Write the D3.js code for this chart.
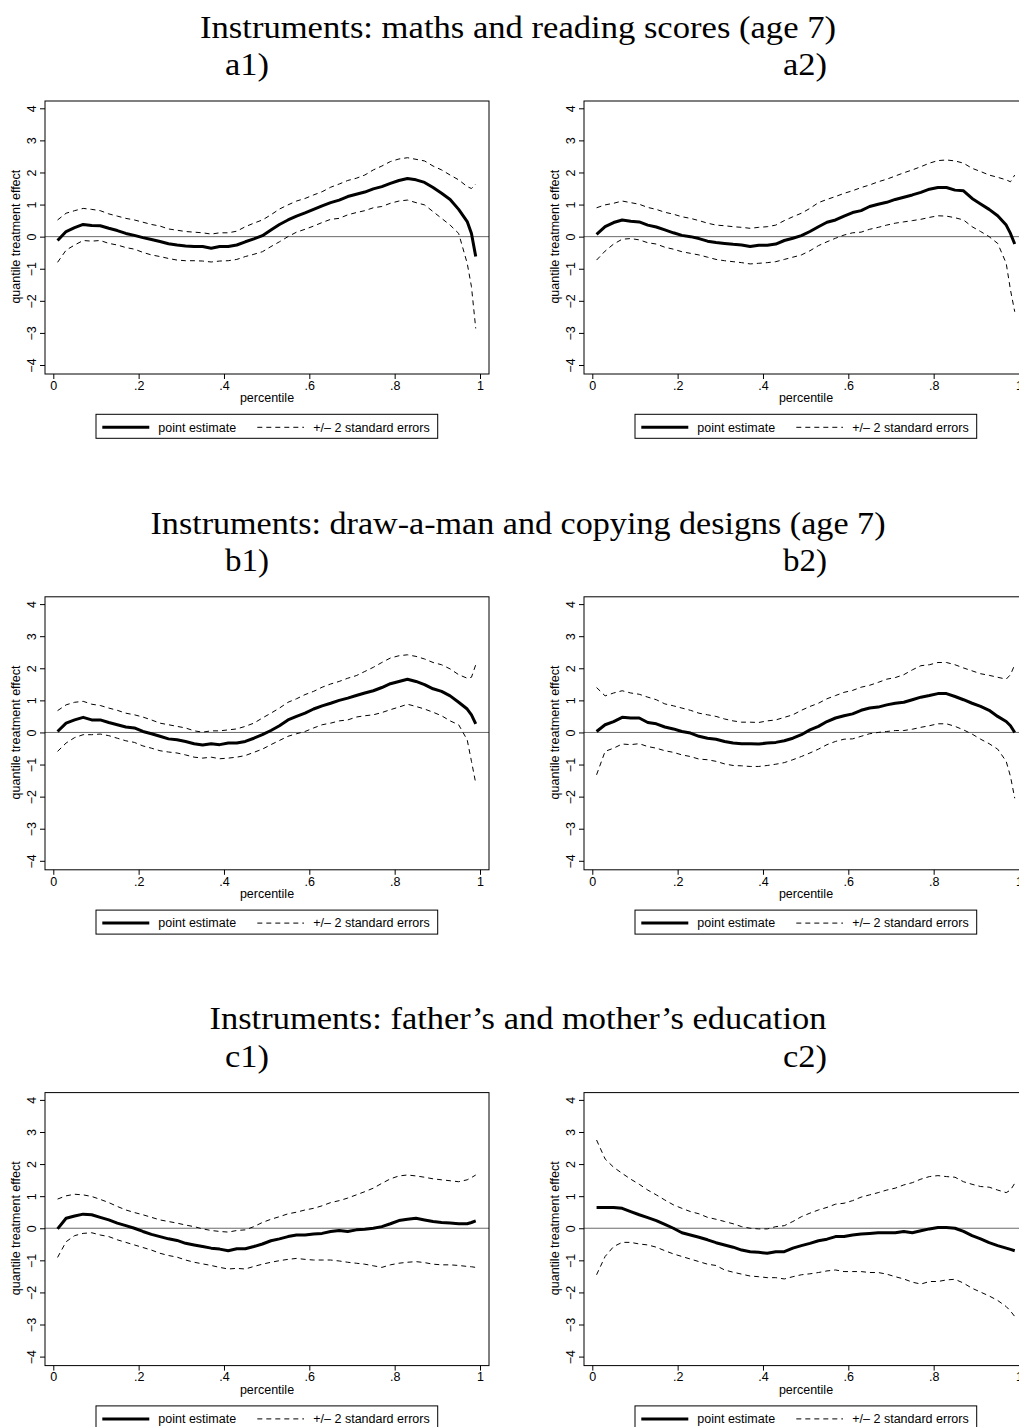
<!DOCTYPE html>
<html>
<head>
<meta charset="utf-8">
<script src="https://cdn.jsdelivr.net/npm/d3@7"></script>
<style>
  body { margin: 0; background: #fff; }
  text { font-family: "Liberation Sans", Arial, sans-serif; }
  .ttl { font-family: "Liberation Serif", "DejaVu Serif", serif; }
</style>
</head>
<body>
<script>
// percentiles at which the estimates were read
const pct = [0.01,0.03,0.05,0.07,0.09,0.11,0.13,0.15,0.17,0.19,0.21,0.23,0.25,0.27,0.29,0.31,0.33,0.35,0.37,0.39,0.41,0.43,0.45,0.47,0.49,
             0.51,0.53,0.55,0.57,0.59,0.61,0.63,0.65,0.67,0.69,0.71,0.73,0.75,0.77,0.79,0.81,0.83,0.85,0.87,0.89,0.91,0.93,0.95,0.97,0.98,0.99];

// a) maths and reading scores
const a1Est = [-0.12,0.16,0.28,0.38,0.35,0.34,0.26,0.19,0.10,0.04,-0.03,-0.09,-0.15,-0.22,-0.26,-0.29,-0.31,-0.31,-0.36,-0.31,-0.31,-0.26,-0.16,-0.07,0.03,
               0.21,0.38,0.52,0.64,0.74,0.85,0.96,1.06,1.14,1.25,1.32,1.39,1.49,1.56,1.66,1.75,1.81,1.77,1.69,1.53,1.35,1.16,0.85,0.47,0.10,-0.62];
const a1Hi = [0.52,0.73,0.81,0.88,0.85,0.81,0.71,0.64,0.57,0.52,0.45,0.38,0.33,0.24,0.20,0.16,0.14,0.12,0.08,0.12,0.12,0.17,0.31,0.42,0.52,
              0.68,0.86,0.99,1.11,1.19,1.30,1.40,1.54,1.64,1.75,1.82,1.92,2.08,2.20,2.34,2.42,2.46,2.41,2.36,2.20,2.08,1.92,1.77,1.56,1.50,1.64];
const a1Lo = [-0.80,-0.42,-0.26,-0.12,-0.14,-0.12,-0.21,-0.26,-0.34,-0.39,-0.49,-0.57,-0.62,-0.68,-0.73,-0.75,-0.75,-0.76,-0.79,-0.76,-0.75,-0.71,-0.62,-0.55,-0.47,
              -0.31,-0.16,0.00,0.14,0.23,0.33,0.44,0.54,0.57,0.68,0.75,0.81,0.90,0.94,1.04,1.11,1.14,1.06,0.99,0.78,0.57,0.36,0.10,-0.83,-1.56,-2.86];
const a2Est = [0.07,0.31,0.44,0.52,0.48,0.46,0.36,0.30,0.21,0.12,0.04,0.00,-0.06,-0.14,-0.18,-0.21,-0.24,-0.26,-0.31,-0.27,-0.27,-0.23,-0.12,-0.05,0.03,
               0.16,0.31,0.45,0.52,0.64,0.75,0.81,0.94,1.01,1.07,1.16,1.23,1.30,1.38,1.48,1.53,1.53,1.45,1.43,1.19,1.02,0.85,0.65,0.36,0.10,-0.23];
const a2Hi = [0.90,0.99,1.04,1.11,1.06,1.01,0.91,0.85,0.76,0.70,0.62,0.57,0.50,0.42,0.36,0.34,0.31,0.29,0.26,0.29,0.31,0.36,0.50,0.62,0.73,
              0.88,1.06,1.16,1.25,1.35,1.43,1.53,1.61,1.71,1.79,1.89,1.99,2.08,2.18,2.29,2.37,2.39,2.36,2.29,2.13,2.03,1.92,1.85,1.77,1.71,1.92];
const a2Lo = [-0.73,-0.45,-0.23,-0.08,-0.06,-0.10,-0.19,-0.23,-0.33,-0.39,-0.47,-0.52,-0.57,-0.64,-0.71,-0.75,-0.78,-0.81,-0.85,-0.83,-0.81,-0.78,-0.71,-0.64,-0.57,
              -0.44,-0.28,-0.16,-0.05,0.05,0.12,0.14,0.23,0.29,0.36,0.42,0.46,0.50,0.54,0.60,0.65,0.64,0.59,0.52,0.31,0.16,0.00,-0.21,-0.83,-1.66,-2.34];

// b) draw-a-man and copying designs
const b1Est = [0.03,0.29,0.39,0.47,0.39,0.39,0.31,0.24,0.17,0.14,0.03,-0.04,-0.12,-0.20,-0.23,-0.28,-0.35,-0.39,-0.35,-0.38,-0.33,-0.33,-0.28,-0.18,-0.07,
               0.06,0.21,0.39,0.50,0.60,0.73,0.83,0.91,1.00,1.07,1.15,1.23,1.30,1.40,1.52,1.59,1.66,1.59,1.49,1.36,1.28,1.14,0.94,0.73,0.55,0.27];
const b1Hi = [0.68,0.86,0.94,0.97,0.88,0.84,0.76,0.69,0.60,0.55,0.48,0.39,0.29,0.24,0.19,0.14,0.05,0.01,0.05,0.05,0.08,0.11,0.19,0.29,0.45,
              0.60,0.76,0.94,1.05,1.18,1.28,1.41,1.51,1.59,1.69,1.77,1.90,2.03,2.18,2.32,2.39,2.42,2.37,2.29,2.18,2.11,1.98,1.80,1.69,1.72,2.11];
const b1Lo = [-0.59,-0.33,-0.16,-0.07,-0.07,-0.05,-0.10,-0.18,-0.26,-0.31,-0.42,-0.49,-0.57,-0.61,-0.64,-0.70,-0.77,-0.80,-0.77,-0.82,-0.80,-0.77,-0.72,-0.62,-0.52,
              -0.38,-0.25,-0.12,-0.04,0.03,0.14,0.24,0.29,0.36,0.39,0.48,0.52,0.55,0.62,0.71,0.79,0.88,0.81,0.73,0.63,0.52,0.36,0.24,-0.23,-0.90,-1.58];
const b2Est = [0.03,0.24,0.34,0.47,0.45,0.45,0.31,0.27,0.17,0.11,0.03,-0.02,-0.12,-0.18,-0.21,-0.28,-0.33,-0.35,-0.35,-0.36,-0.33,-0.31,-0.26,-0.18,-0.07,
               0.08,0.19,0.34,0.45,0.52,0.58,0.69,0.76,0.79,0.86,0.91,0.94,1.02,1.10,1.15,1.21,1.21,1.12,1.02,0.91,0.81,0.69,0.50,0.34,0.21,0.00];
const b2Hi = [1.40,1.14,1.23,1.30,1.23,1.19,1.10,1.02,0.89,0.83,0.76,0.69,0.60,0.55,0.50,0.42,0.36,0.32,0.32,0.31,0.36,0.39,0.47,0.55,0.69,
              0.81,0.91,1.05,1.15,1.25,1.31,1.41,1.47,1.56,1.66,1.71,1.80,1.95,2.08,2.11,2.18,2.18,2.11,2.01,1.92,1.83,1.78,1.72,1.66,1.80,2.11];
const b2Lo = [-1.32,-0.59,-0.49,-0.36,-0.38,-0.35,-0.44,-0.49,-0.57,-0.62,-0.70,-0.75,-0.83,-0.85,-0.90,-0.98,-1.03,-1.04,-1.06,-1.06,-1.03,-0.99,-0.94,-0.85,-0.75,
              -0.64,-0.52,-0.38,-0.28,-0.21,-0.20,-0.12,-0.04,0.00,0.03,0.06,0.06,0.10,0.16,0.21,0.27,0.27,0.19,0.08,-0.05,-0.21,-0.35,-0.52,-0.90,-1.37,-2.05];

// c) father's and mother's education
const c1Est = [-0.02,0.31,0.38,0.44,0.42,0.34,0.26,0.16,0.08,0.00,-0.10,-0.19,-0.26,-0.33,-0.38,-0.47,-0.52,-0.57,-0.62,-0.65,-0.70,-0.64,-0.64,-0.57,-0.49,
               -0.39,-0.33,-0.26,-0.21,-0.21,-0.18,-0.16,-0.10,-0.07,-0.10,-0.05,-0.03,0.00,0.05,0.14,0.24,0.28,0.31,0.26,0.21,0.18,0.16,0.14,0.14,0.18,0.23];
const c1Hi = [0.91,1.01,1.06,1.04,0.99,0.90,0.80,0.68,0.57,0.49,0.42,0.34,0.26,0.21,0.16,0.10,0.05,-0.02,-0.07,-0.10,-0.12,-0.07,-0.05,0.05,0.18,
              0.28,0.36,0.45,0.50,0.57,0.62,0.70,0.80,0.86,0.94,1.04,1.14,1.25,1.40,1.54,1.63,1.66,1.63,1.59,1.54,1.51,1.48,1.45,1.51,1.58,1.66];
const c1Lo = [-0.91,-0.42,-0.23,-0.16,-0.14,-0.21,-0.26,-0.36,-0.44,-0.52,-0.60,-0.68,-0.78,-0.85,-0.90,-0.99,-1.06,-1.11,-1.16,-1.22,-1.27,-1.25,-1.27,-1.19,-1.12,
              -1.06,-1.01,-0.97,-0.94,-0.97,-0.99,-0.99,-0.99,-1.02,-1.06,-1.09,-1.12,-1.17,-1.22,-1.14,-1.09,-1.06,-1.04,-1.07,-1.12,-1.14,-1.14,-1.16,-1.19,-1.20,-1.22];
const c2Est = [0.65,0.65,0.65,0.62,0.52,0.42,0.33,0.24,0.12,0.00,-0.14,-0.21,-0.28,-0.36,-0.45,-0.52,-0.59,-0.68,-0.73,-0.75,-0.78,-0.73,-0.73,-0.62,-0.54,
               -0.47,-0.39,-0.34,-0.26,-0.26,-0.21,-0.18,-0.16,-0.14,-0.14,-0.14,-0.10,-0.14,-0.08,-0.02,0.02,0.02,0.00,-0.10,-0.23,-0.33,-0.45,-0.54,-0.62,-0.66,-0.70];
const c2Hi = [2.75,2.16,1.90,1.71,1.53,1.37,1.19,1.04,0.88,0.73,0.62,0.52,0.45,0.34,0.28,0.21,0.14,0.05,0.00,-0.02,-0.02,0.05,0.08,0.21,0.36,
              0.47,0.57,0.65,0.75,0.78,0.86,0.97,1.04,1.11,1.19,1.25,1.35,1.42,1.53,1.61,1.64,1.61,1.59,1.45,1.37,1.30,1.28,1.19,1.11,1.19,1.40];
const c2Lo = [-1.45,-0.88,-0.57,-0.44,-0.44,-0.49,-0.52,-0.59,-0.70,-0.80,-0.88,-0.96,-1.04,-1.12,-1.16,-1.30,-1.37,-1.43,-1.49,-1.51,-1.54,-1.54,-1.58,-1.51,-1.45,
              -1.42,-1.38,-1.33,-1.30,-1.35,-1.35,-1.35,-1.38,-1.38,-1.43,-1.51,-1.58,-1.68,-1.74,-1.66,-1.66,-1.61,-1.59,-1.71,-1.87,-1.99,-2.11,-2.25,-2.44,-2.58,-2.75];

const titles = ["Instruments: maths and reading scores (age 7)",
                "Instruments: draw-a-man and copying designs (age 7)",
                "Instruments: father\u2019s and mother\u2019s education"];
const titleWidths = [636, 735, 617];
const xTicks = [0, 0.2, 0.4, 0.6, 0.8, 1];
const yTicks = [-4, -3, -2, -1, 0, 1, 2, 3, 4];

const panels = [
    { label: "a1)", row: 0, col: 0, est: a1Est, hi: a1Hi, lo: a1Lo },
    { label: "a2)", row: 0, col: 1, est: a2Est, hi: a2Hi, lo: a2Lo },
    { label: "b1)", row: 1, col: 0, est: b1Est, hi: b1Hi, lo: b1Lo },
    { label: "b2)", row: 1, col: 1, est: b2Est, hi: b2Hi, lo: b2Lo },
    { label: "c1)", row: 2, col: 0, est: c1Est, hi: c1Hi, lo: c1Lo },
    { label: "c2)", row: 2, col: 1, est: c2Est, hi: c2Hi, lo: c2Lo }
];

// layout
const colX = [45, 584];
const rowStep = 495.8;
const frameTop = 101;
const frameW = 444, frameH = 273;
const labelX = [225, 783];

const svg = d3.select("body")
    .append("svg")
    .attr("width", 1019)
    .attr("height", 1427);

svg.append("rect").attr("width", 1019).attr("height", 1427).attr("fill", "#fff");

// block titles
titles.forEach((t, i) => {
    svg.append("text")
        .attr("class", "ttl")
        .attr("x", 518)
        .attr("y", 37.7 + i * rowStep)
        .attr("text-anchor", "middle")
        .attr("font-size", 31)
        .attr("textLength", titleWidths[i])
        .attr("lengthAdjust", "spacingAndGlyphs")
        .text(t);
});

const x = d3.scaleLinear().domain([0, 1]).range([8.3, 435]);
const y = d3.scaleLinear().domain([-4, 4]).range([264, 7.3]);

const line = d3.line()
    .x((d, i) => x(pct[i]))
    .y(d => y(d));

panels.forEach(p => {
    const top = frameTop + p.row * rowStep;

    svg.append("text")
        .attr("class", "ttl")
        .attr("x", labelX[p.col])
        .attr("y", 75 + p.row * rowStep)
        .attr("font-size", 31)
        .attr("textLength", 44)
        .attr("lengthAdjust", "spacingAndGlyphs")
        .text(p.label);

    const g = svg.append("g")
        .attr("transform", `translate(${colX[p.col]},${top})`);

    // zero reference line
    g.append("line")
        .attr("x1", 0).attr("x2", frameW)
        .attr("y1", y(0)).attr("y2", y(0))
        .attr("stroke", "#6a6a6a")
        .attr("stroke-width", 1);

    // confidence bands
    [p.hi, p.lo].forEach(s => {
        g.append("path")
            .datum(s)
            .attr("fill", "none")
            .attr("stroke", "#000")
            .attr("stroke-width", 1)
            .attr("stroke-dasharray", "5,4")
            .attr("d", line);
    });

    // point estimate
    g.append("path")
        .datum(p.est)
        .attr("fill", "none")
        .attr("stroke", "#000")
        .attr("stroke-width", 3)
        .attr("stroke-linejoin", "round")
        .attr("d", line);

    // frame
    g.append("rect")
        .attr("width", frameW).attr("height", frameH)
        .attr("fill", "none")
        .attr("stroke", "#000")
        .attr("stroke-width", 1);

    // y axis
    const ya = g.append("g")
        .call(d3.axisLeft(y).tickValues(yTicks).tickSize(5));
    ya.select(".domain").remove();
    ya.selectAll("text")
        .attr("x", 0).attr("y", 0).attr("dy", null)
        .attr("text-anchor", "middle")
        .attr("transform", "translate(-9,0) rotate(-90)")
        .attr("font-size", 12.5)
        .attr("font-family", "Liberation Sans, Arial, sans-serif")
        .attr("fill", "#000");

    // x axis
    const xa = g.append("g")
        .attr("transform", `translate(0,${frameH})`)
        .call(d3.axisBottom(x).tickValues(xTicks).tickSize(5).tickPadding(2)
            .tickFormat(d => d === 0 ? "0" : d === 1 ? "1" : String(d).replace("0.", ".")));
    xa.select(".domain").remove();
    xa.selectAll("text")
        .attr("font-size", 12.5)
        .attr("font-family", "Liberation Sans, Arial, sans-serif")
        .attr("fill", "#000");

    // axis titles
    g.append("text")
        .attr("transform", `translate(-25,${y(0)}) rotate(-90)`)
        .attr("text-anchor", "middle")
        .attr("font-size", 12.5)
        .text("quantile treatment effect");

    g.append("text")
        .attr("x", frameW / 2)
        .attr("y", 301.3)
        .attr("text-anchor", "middle")
        .attr("font-size", 12.5)
        .text("percentile");

    // legend
    const lg = g.append("g").attr("transform", "translate(51,313.3)");
    lg.append("rect")
        .attr("width", 341.7).attr("height", 24)
        .attr("fill", "#fff").attr("stroke", "#000").attr("stroke-width", 1);
    lg.append("line")
        .attr("x1", 6.3).attr("x2", 53.3).attr("y1", 13).attr("y2", 13)
        .attr("stroke", "#000").attr("stroke-width", 3);
    lg.append("text")
        .attr("x", 62.3).attr("y", 17.3)
        .attr("font-size", 12.5)
        .text("point estimate");
    lg.append("line")
        .attr("x1", 161.3).attr("x2", 208).attr("y1", 13).attr("y2", 13)
        .attr("stroke", "#000").attr("stroke-width", 1)
        .attr("stroke-dasharray", "5,4");
    lg.append("text")
        .attr("x", 217.3).attr("y", 17.3)
        .attr("font-size", 12.5)
        .text("+/\u2013 2 standard errors");
});
</script>
</body>
</html>
